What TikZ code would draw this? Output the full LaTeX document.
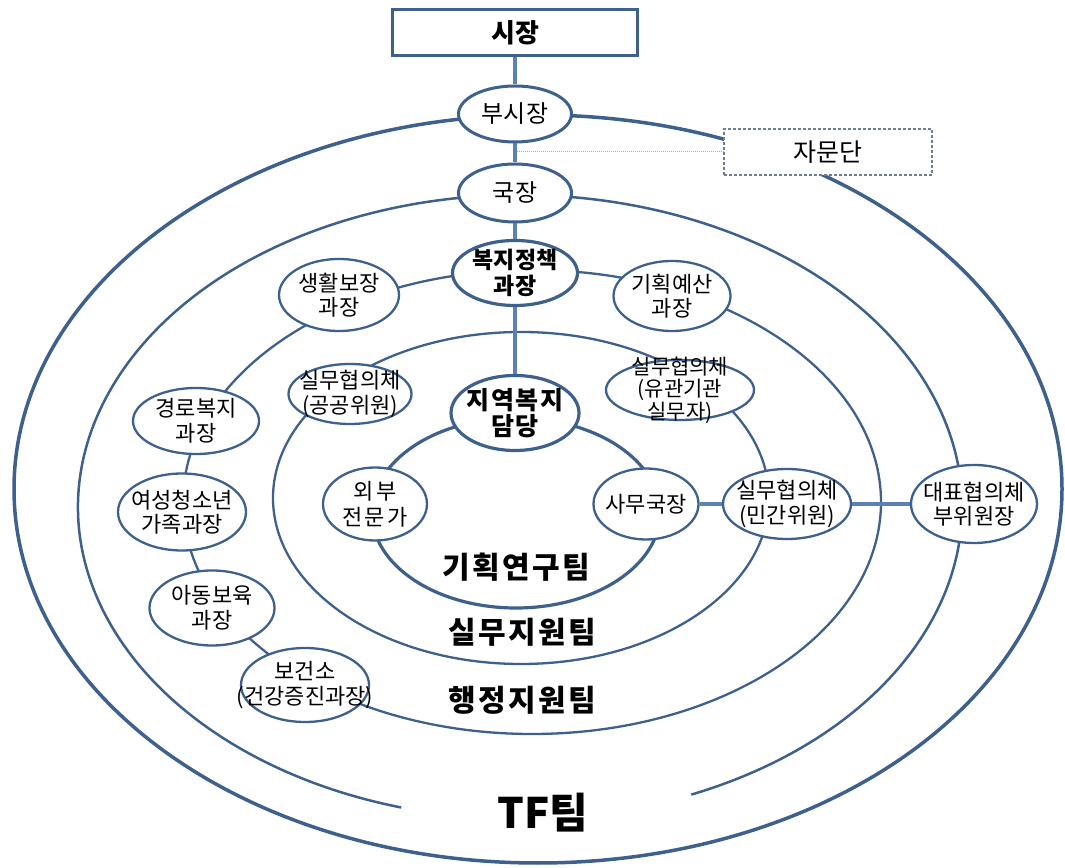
\documentclass[tikz,border=0pt]{standalone}
\usepackage{fontspec}
\setmainfont{Noto Sans CJK KR}
\usetikzlibrary{shapes.geometric}
\definecolor{ln}{HTML}{3E608C}
\definecolor{cn}{HTML}{5A80B4}
\definecolor{dl}{HTML}{9DB3D3}
\definecolor{bx}{HTML}{6E7D96}
\tikzset{
  org/.style={ellipse, draw=ln, line width=2.3pt, fill=white, inner xsep=-40pt, inner ysep=-30pt,
    align=center, text=black, font=\fontsize{22}{24.5}\selectfont},
  orgb/.style={org, line width=3.2pt},
  ring/.style={draw=ln, line width=2.3pt},
  conn/.style={draw=cn, line width=3.5pt},
  team/.style={inner sep=0pt, text=black, font=\bfseries\fontsize{30}{32}\selectfont\addfontfeature{LetterSpace=8}},
}
\begin{document}
\begin{tikzpicture}[x=1pt,y=1pt]
\useasboundingbox (0,0) rectangle (1065,867);
% rings
\draw[ln, line width=3.5pt] (538,378) ellipse [x radius=524, y radius=374];
\draw[ln, line width=2.5pt] (691.3,72.4) arc [start angle=-67.2, end angle=254.4, x radius=442, y radius=312];
\draw[ring] (532,365) ellipse [x radius=349, y radius=232];
\draw[ring] (521,369) ellipse [x radius=248, y radius=166];
\draw[ln, line width=3.2pt] (516,354) ellipse [x radius=144, y radius=95];
% advisory connector
\coordinate (jm) at (515,715);
\node[draw=bx, dash pattern=on 3pt off 2pt, line width=1.3pt, fill=white, minimum width=208pt, minimum height=46pt,
  inner sep=0pt, font=\fontsize{25}{28}\selectfont] (jamun) at (828,715) {자문단};
\draw[dl, line width=1pt, dash pattern=on 1pt off 1pt] (jm) -- (jamun.west);
% nodes
\node[draw=ln, line width=3.2pt, fill=white, minimum width=245pt, minimum height=46pt, inner sep=0pt,
  font=\bfseries\fontsize{26}{28}\selectfont] (sijang) at (515,834.5) {시장};
\node[org, line width=3pt, minimum width=113pt, minimum height=56pt, font=\fontsize{24}{26}\selectfont] (busi) at (515,753) {부시장};
\node[org, line width=3pt, minimum width=113pt, minimum height=58pt, font=\fontsize{24}{26}\selectfont] (guk) at (515,674) {국장};
\node[orgb, minimum width=125pt, minimum height=65pt, font=\bfseries\fontsize{23}{26}\selectfont] (bokji) at (515,594) {복지정책\\과장};
\node[org, minimum width=120pt, minimum height=72pt] (saeng) at (339,572) {생활보장\\과장};
\node[org, minimum width=117pt, minimum height=70pt] (gihoek) at (672,571) {기획예산\\과장};
\node[org, minimum width=123pt, minimum height=60pt] (gong) at (350,473) {실무협의체\\(공공위원)};
\node[orgb, minimum width=128pt, minimum height=75pt,
  font=\bfseries\fontsize{25}{26}\selectfont\addfontfeature{LetterSpace=6}] (jiyeok) at (515,454) {지역복지\\담당};
\node[org, minimum width=148pt, minimum height=60pt, font=\fontsize{21}{22.5}\selectfont] (yugwan) at (680,477) {실무협의체\\(유관기관\\실무자)};
\node[org, minimum width=126pt, minimum height=66pt] (gyeong) at (196,446) {경로복지\\과장};
\node[org, minimum width=128pt, minimum height=77pt] (yeo) at (182,355) {여성청소년\\가족과장};
\node[org, minimum width=125pt, minimum height=75pt] (adong) at (212,259) {아동보육\\과장};
\node[org, minimum width=128pt, minimum height=74pt] (bogeon) at (305,182) {보건소\\(건강증진과장)};
\node[org, minimum width=104pt, minimum height=73pt,
  font=\fontsize{22}{26}\selectfont\addfontfeature{LetterSpace=10}] (oebu) at (375,363) {외부\\전문가};
\node[org, minimum width=105pt, minimum height=71pt] (samu) at (646,363) {사무국장};
\node[org, minimum width=128pt, minimum height=70pt] (mingan) at (787,363) {실무협의체\\(민간위원)};
\node[org, minimum width=126pt, minimum height=78pt] (daepyo) at (974,363) {대표협의체\\부위원장};
% connectors
\draw[conn] (sijang) -- (busi);
\draw[conn] (busi) -- (guk);
\draw[conn] (guk) -- (bokji);
\draw[conn] (bokji) -- (jiyeok);
\draw[conn] (samu) -- (mingan);
\draw[conn] (mingan) -- (daepyo);
% team labels
\node[team] (t1) at (516,300) {기획연구팀};
\node[team] (t2) at (522,235) {실무지원팀};
\node[team] (t3) at (522,167) {행정지원팀};
\node[inner sep=0pt, text=black, font=\bfseries\fontsize{42}{46}\selectfont] (tf) at (543,54) {TF팀};
\end{tikzpicture}
\end{document}
